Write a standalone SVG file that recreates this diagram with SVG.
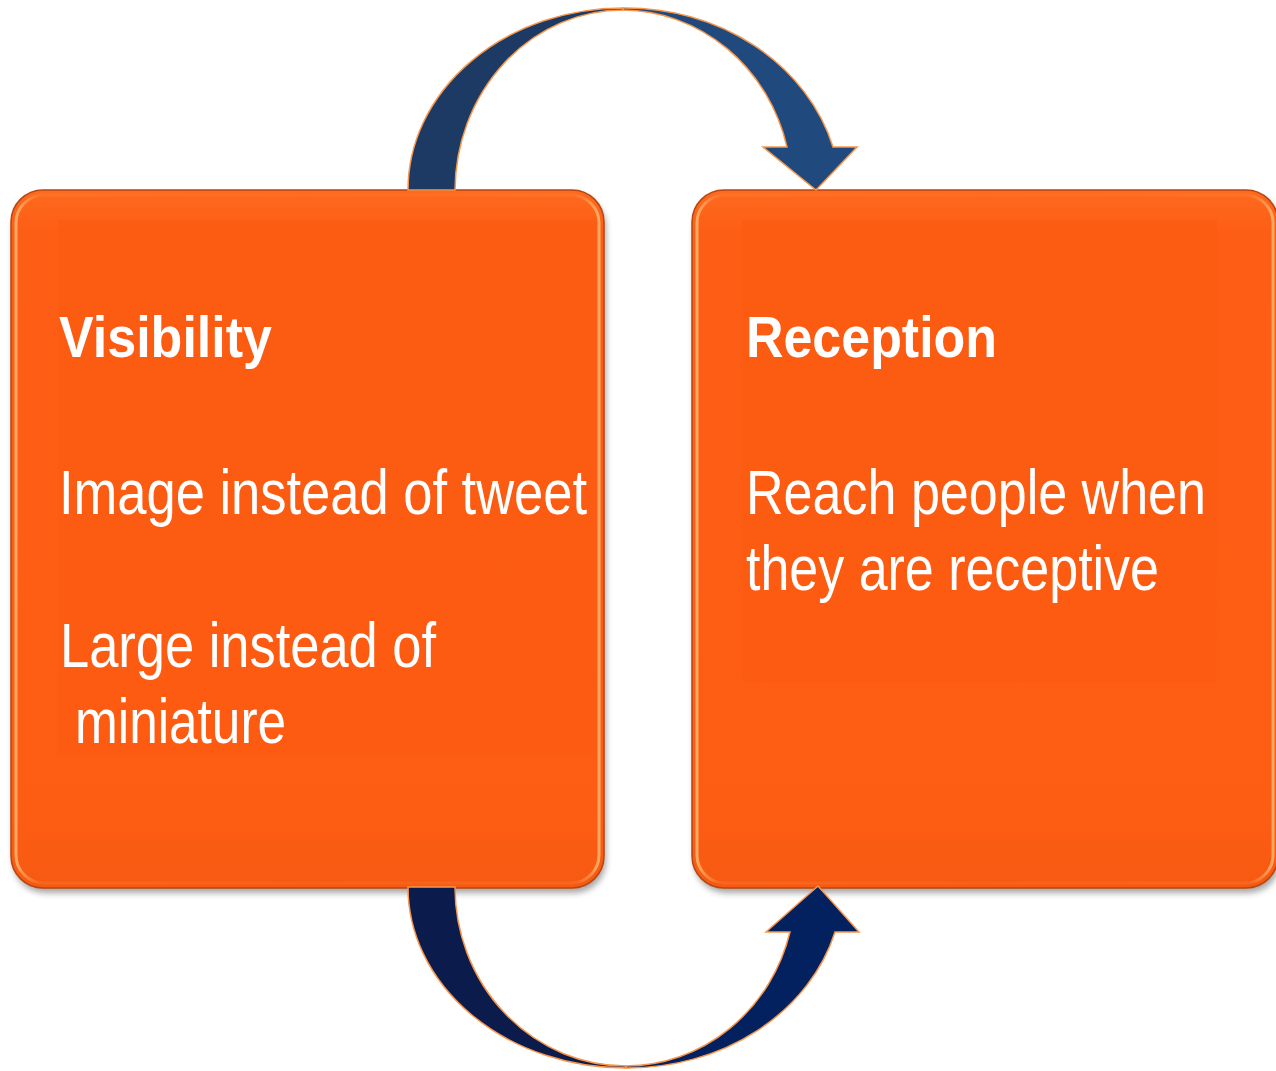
<svg xmlns="http://www.w3.org/2000/svg" width="1276" height="1071" viewBox="0 0 1276 1071">
  <style>
    .box { fill: url(#boxFill); stroke: #b9460f; stroke-width: 1.5; }
    .bevel { fill: none; stroke: url(#bevelGrad); stroke-width: 3; }
    .shadow { fill: #000; opacity: 0.35; filter: url(#blur); }
    .inner { fill: #fb5a10; opacity: 0.6; }
    .arrow { stroke: #f7964a; stroke-width: 1.5; stroke-linejoin: miter; }
    .title { font-family: "Liberation Sans", Arial, sans-serif; font-weight: bold; font-size: 58px; fill: #ffffff; }
    .body { font-family: "Liberation Sans", Arial, sans-serif; font-size: 53px; fill: #ffffff; }
  </style>
  <defs>
    <linearGradient id="boxFill" x1="0" y1="0" x2="0" y2="1">
      <stop offset="0" stop-color="#fe6a1f"/>
      <stop offset="0.06" stop-color="#fd5e15"/>
      <stop offset="0.9" stop-color="#fd5c13"/>
      <stop offset="1" stop-color="#f65a12"/>
    </linearGradient>
    <linearGradient id="bevelGrad" x1="0" y1="0" x2="1" y2="0">
      <stop offset="0" stop-color="#ffb36e" stop-opacity="0.9"/>
      <stop offset="0.04" stop-color="#ff9a50" stop-opacity="0.2"/>
      <stop offset="0.5" stop-color="#ff9a50" stop-opacity="0.1"/>
      <stop offset="0.96" stop-color="#ff9a50" stop-opacity="0.2"/>
      <stop offset="1" stop-color="#ffb36e" stop-opacity="0.9"/>
    </linearGradient>
    <filter id="blur" x="-5%" y="-5%" width="110%" height="110%">
      <feGaussianBlur stdDeviation="3"/>
    </filter>
  </defs>
  <rect width="1276" height="1071" fill="#ffffff"/>

  <g id="node-visibility">
    <rect class="shadow" x="13" y="195" width="593" height="698" rx="32"/>
    <rect class="box" x="11" y="190" width="593" height="698" rx="32"/>
    <rect class="bevel" x="16" y="195" width="583" height="688" rx="28"/>
    <rect class="inner" x="58" y="220" width="538" height="537"/>
    <text class="title" x="59" y="357" textLength="213" lengthAdjust="spacingAndGlyphs">Visibility</text>
    <text class="body" transform="translate(59,514) scale(1,1.17)" x="0" y="0" textLength="528" lengthAdjust="spacingAndGlyphs">Image instead of tweet</text>
    <text class="body" transform="translate(60,667) scale(1,1.17)" x="0" y="0" textLength="376" lengthAdjust="spacingAndGlyphs">Large instead of</text>
    <text class="body" transform="translate(75,743) scale(1,1.17)" x="0" y="0" textLength="211" lengthAdjust="spacingAndGlyphs">miniature</text>
  </g>

  <g id="node-reception">
    <rect class="shadow" x="694" y="195" width="586" height="698" rx="32"/>
    <rect class="box" x="692" y="190" width="586" height="698" rx="32"/>
    <rect class="bevel" x="697" y="195" width="576" height="688" rx="28"/>
    <rect class="inner" x="742" y="220" width="475" height="462"/>
    <text class="title" x="746" y="357" textLength="251" lengthAdjust="spacingAndGlyphs">Reception</text>
    <text class="body" transform="translate(746,514) scale(1,1.17)" x="0" y="0" textLength="460" lengthAdjust="spacingAndGlyphs">Reach people when</text>
    <text class="body" transform="translate(746,590) scale(1,1.17)" x="0" y="0" textLength="413" lengthAdjust="spacingAndGlyphs">they are receptive</text>
  </g>

  <g id="connectors">
    <g id="arrow-top">
      <path class="arrow" fill="#1c3a63" d="M 408,190 A 215,182 0 0 1 623,8 L 623,10 A 168,181 0 0 0 455,190 Z"/>
      <path class="arrow" fill="#204a7d" d="M 623,8 A 215,190 0 0 1 833,147 L 857,147 L 816,190 L 763,147 L 787,147 A 170,180 0 0 0 623,10 Z"/>
    </g>
    <g id="arrow-bottom">
      <path class="arrow" fill="#0b1b4c" d="M 408,887 A 218,181 0 0 0 626,1068 L 626,1066 A 171,179 0 0 1 455,887 Z"/>
      <path class="arrow" fill="#04215f" d="M 626,1068 A 215,185 0 0 0 835,932 L 859,932 L 818,886 L 766,932 L 790,932 A 170,178 0 0 1 626,1066 Z"/>
    </g>
  </g>
</svg>
